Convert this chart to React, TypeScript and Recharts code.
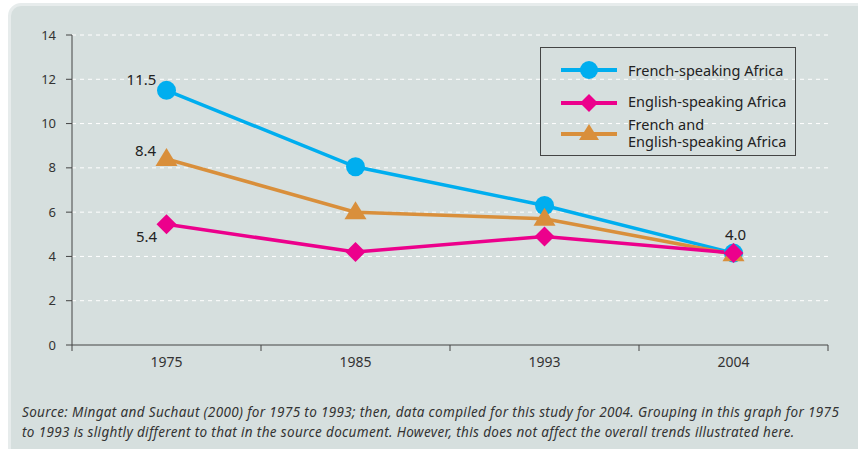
import { LineChart, Line, XAxis, YAxis, CartesianGrid, Legend, LabelList } from 'recharts';

const years = ['1975', '1985', '1993', '2004'];
const frenchSpeaking = [11.5, 8.05, 6.3, 4.15];
const englishSpeaking = [5.45, 4.2, 4.9, 4.15];
const bothGroups = [8.4, 6.0, 5.7, 4.1];
const frenchLabels = ['11.5', '', '', '4.0'];
const englishLabels = ['5.4', '', '', ''];
const bothLabels = ['8.4', '', '', ''];
const yTicks = [0, 2, 4, 6, 8, 10, 12, 14];

const data = years.map((year, i) => ({
  year,
  french: frenchSpeaking[i],
  english: englishSpeaking[i],
  both: bothGroups[i],
}));

const FONT = '"Noto Sans", "Open Sans", sans-serif';
const BLUE = '#00aeef';
const PINK = '#ec008c';
const ORANGE = '#d98f3b';
const W = 858;
const H = 449;
const MARGIN = { top: 35, right: 30, bottom: 74, left: 12 };
const PLOT_W = W - MARGIN.left - 60 - MARGIN.right;
const BAND = PLOT_W / years.length;

const LABEL_OFFSETS: Record<string, { dx: number; dy: number }[]> = {
  french: [{ dx: -25, dy: -11 }, { dx: 0, dy: 0 }, { dx: 0, dy: 0 }, { dx: 2, dy: -19 }],
  english: [{ dx: -20, dy: 12 }, { dx: 0, dy: 0 }, { dx: 0, dy: 0 }, { dx: 0, dy: 0 }],
  both: [{ dx: -21, dy: -9 }, { dx: 0, dy: 0 }, { dx: 0, dy: 0 }, { dx: 0, dy: 0 }],
};

function makeLabel(key: string, labels: string[]) {
  return (props: any) => {
    const { x, y, index } = props;
    const text = labels[index];
    if (!text) return null;
    const o = LABEL_OFFSETS[key][index];
    return (
      <text x={x + o.dx} y={y + o.dy} textAnchor="middle" dominantBaseline="central" fontSize={15} fill="#222" fontFamily={FONT}>
        {text}
      </text>
    );
  };
}

function CircleDot(props: any) {
  const { cx, cy } = props;
  if (cx == null || cy == null) return null;
  return <circle cx={cx} cy={cy} r={9.5} fill={BLUE} />;
}

function DiamondDot(props: any) {
  const { cx, cy } = props;
  if (cx == null || cy == null) return null;
  const r = 10;
  return <polygon points={`${cx},${cy - r} ${cx + r},${cy} ${cx},${cy + r} ${cx - r},${cy}`} fill={PINK} />;
}

function TriangleDot(props: any) {
  const { cx, cy } = props;
  if (cx == null || cy == null) return null;
  return <polygon points={`${cx},${cy - 11} ${cx + 11},${cy + 7} ${cx - 11},${cy + 7}`} fill={ORANGE} />;
}

function XTick(props: any) {
  const { x, y, payload, index } = props;
  const axisY = y - 14;
  return (
    <g>
      <line x1={x - BAND / 2} x2={x - BAND / 2} y1={axisY} y2={axisY + 6} stroke="#444" />
      {index === years.length - 1 && (
        <line x1={x + BAND / 2} x2={x + BAND / 2} y1={axisY} y2={axisY + 6} stroke="#444" />
      )}
      <text x={x} y={y} dy={8} textAnchor="middle" fontSize={14} fill="#333" fontFamily={FONT}>
        {payload.value}
      </text>
    </g>
  );
}

const LEGEND_ORDER = ['french', 'english', 'both'];
const LEGEND_NAMES: Record<string, string[]> = {
  french: ['French-speaking Africa'],
  english: ['English-speaking Africa'],
  both: ['French and', 'English-speaking Africa'],
};
const LEGEND_ROWS: Record<string, { icon: number; text: number }> = {
  french: { icon: 23, text: 14 },
  english: { icon: 56, text: 45 },
  both: { icon: 87, text: 68 },
};

function LegendIcon({ k }: { k: string }) {
  const cx = 28;
  const cy = 10;
  return (
    <svg width={56} height={20} style={{ display: 'block' }}>
      <line x1={0} x2={56} y1={cy} y2={cy} stroke={k === 'french' ? BLUE : k === 'english' ? PINK : ORANGE} strokeWidth={4} />
      {k === 'french' && <circle cx={cx} cy={cy} r={9} fill={BLUE} />}
      {k === 'english' && <polygon points={`${cx},${cy - 9} ${cx + 9},${cy} ${cx},${cy + 9} ${cx - 9},${cy}`} fill={PINK} />}
      {k === 'both' && <polygon points={`${cx},${cy - 10} ${cx + 10},${cy + 6} ${cx - 10},${cy + 6}`} fill={ORANGE} />}
    </svg>
  );
}

function ChartLegend(props: any) {
  const payload: any[] = props.payload || [];
  const items = LEGEND_ORDER.map((k) => payload.find((p) => p.dataKey === k)).filter(Boolean);
  return (
    <div
      style={{
        position: 'relative',
        border: '1px solid #444',
        width: 256,
        height: 109,
        boxSizing: 'border-box',
        fontFamily: FONT,
        fontSize: 14.5,
        color: '#222',
      }}
    >
      {items.map((p) => {
        const row = LEGEND_ROWS[p.dataKey];
        return (
          <div key={p.dataKey}>
            <div style={{ position: 'absolute', left: 20, top: row.icon - 11 }}>
              <LegendIcon k={p.dataKey} />
            </div>
            <div style={{ position: 'absolute', left: 87, top: row.text, lineHeight: '17px', whiteSpace: 'nowrap' }}>
              {LEGEND_NAMES[p.dataKey].map((t) => (
                <div key={t}>{t}</div>
              ))}
            </div>
          </div>
        );
      })}
    </div>
  );
}

export default function App() {
  return (
    <div style={{ position: 'fixed', left: 0, top: 0, width: W, height: H, overflow: 'hidden', background: '#fff' }}>
      <div
        style={{
          position: 'absolute',
          left: 8,
          top: 3,
          width: 870,
          height: 460,
          background: '#d6dfde',
          border: '3px solid #e7ecec',
          borderRadius: 13,
        }}
      />
      <div style={{ position: 'absolute', left: 0, top: 0 }}>
        <LineChart width={W} height={H} data={data} margin={MARGIN}>
          <CartesianGrid vertical={false} stroke="#ffffff" strokeDasharray="4 4" horizontalValues={[2, 4, 6, 8, 10, 12, 14]} />
          <XAxis
            dataKey="year"
            scale="band"
            stroke="#444"
            tickLine={false}
            tickSize={0}
            tickMargin={14}
            height={30}
            tick={<XTick />}
            interval={0}
          />
          <YAxis
            domain={[0, 14]}
            ticks={yTicks}
            width={60}
            stroke="#444"
            tickSize={6}
            tickMargin={10}
            tick={{ fontSize: 13, fill: '#333', fontFamily: FONT }}
            interval={0}
          />
          <Legend
            layout="horizontal"
            verticalAlign="middle"
            align="center"
            content={<ChartLegend />}
            wrapperStyle={{ left: 540, top: 47, width: 256, height: 110 }}
          />
          <Line
            dataKey="french"
            name="French-speaking Africa"
            stroke={BLUE}
            strokeWidth={3.5}
            dot={<CircleDot />}
            activeDot={false}
            isAnimationActive={false}
          >
            <LabelList dataKey="french" content={makeLabel('french', frenchLabels)} />
          </Line>
          <Line
            dataKey="both"
            name="French and English-speaking Africa"
            stroke={ORANGE}
            strokeWidth={3.5}
            dot={<TriangleDot />}
            activeDot={false}
            isAnimationActive={false}
          >
            <LabelList dataKey="both" content={makeLabel('both', bothLabels)} />
          </Line>
          <Line
            dataKey="english"
            name="English-speaking Africa"
            stroke={PINK}
            strokeWidth={3.5}
            dot={<DiamondDot />}
            activeDot={false}
            isAnimationActive={false}
          >
            <LabelList dataKey="english" content={makeLabel('english', englishLabels)} />
          </Line>
        </LineChart>
      </div>
      <div
        style={{
          position: 'absolute',
          left: 22,
          top: 402,
          fontFamily: FONT,
          fontStyle: 'italic',
          fontSize: 13.5,
          letterSpacing: 0.35,
          lineHeight: '20px',
          color: '#333',
          whiteSpace: 'nowrap',
        }}
      >
        <div>Source: Mingat and Suchaut (2000) for 1975 to 1993; then, data compiled for this study for 2004. Grouping in this graph for 1975</div>
        <div>to 1993 is slightly different to that in the source document. However, this does not affect the overall trends illustrated here.</div>
      </div>
    </div>
  );
}
